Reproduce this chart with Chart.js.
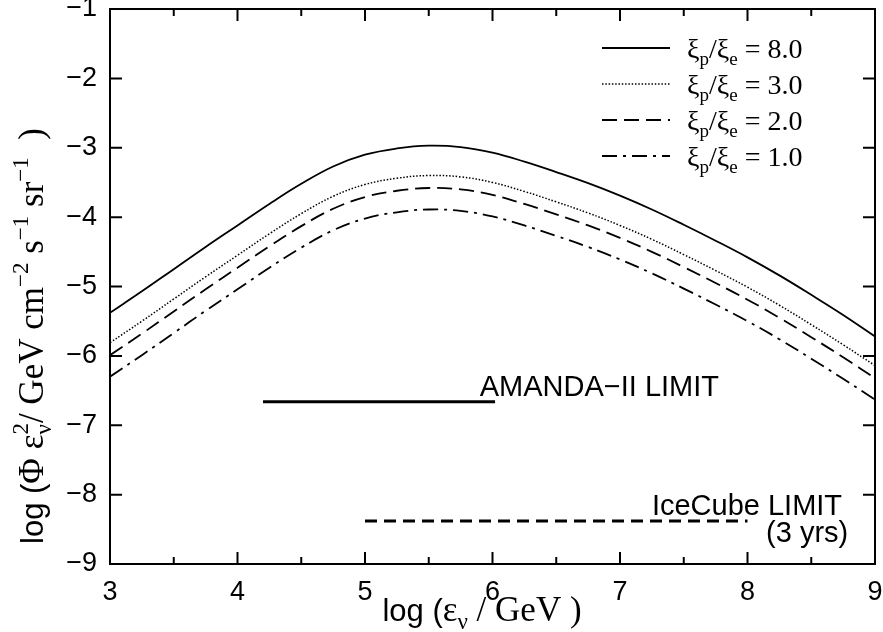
<!DOCTYPE html>
<html lang="en">
<head>
<meta charset="UTF-8">
<title>Neutrino flux vs energy</title>
<script src="https://cdn.jsdelivr.net/npm/chart.js"></script>
<style>
  html, body { margin: 0; padding: 0; background: #fff; }
</style>
</head>
<body>
<canvas id="fluxChart" width="883" height="632"></canvas>
<script>
// log(energy / GeV)
const logE = [3.0, 3.25, 3.5, 3.75, 4.0, 4.25, 4.5, 4.75, 5.0, 5.25, 5.5, 5.75, 6.0,
              6.25, 6.5, 6.75, 7.0, 7.25, 7.5, 7.75, 8.0, 8.25, 8.5, 8.75, 9.0];
// log flux for each xi_p/xi_e ratio
const xi8 = [-5.38, -5.07, -4.75, -4.43, -4.12, -3.81, -3.52, -3.27, -3.10, -3.01, -2.97, -2.99, -3.07,
             -3.20, -3.35, -3.51, -3.69, -3.89, -4.11, -4.34, -4.58, -4.84, -5.12, -5.41, -5.72];
const xi3 = [-5.81, -5.50, -5.18, -4.86, -4.55, -4.24, -3.95, -3.70, -3.53, -3.44, -3.40, -3.42, -3.50,
             -3.63, -3.78, -3.94, -4.12, -4.32, -4.54, -4.77, -5.01, -5.27, -5.55, -5.84, -6.14];
const xi2 = [-5.99, -5.68, -5.36, -5.04, -4.73, -4.42, -4.13, -3.88, -3.71, -3.62, -3.58, -3.60, -3.68,
             -3.81, -3.96, -4.12, -4.30, -4.50, -4.72, -4.95, -5.19, -5.45, -5.73, -6.02, -6.32];
const xi1 = [-6.30, -5.99, -5.67, -5.35, -5.04, -4.73, -4.44, -4.19, -4.02, -3.93, -3.89, -3.91, -3.99,
             -4.12, -4.27, -4.43, -4.61, -4.81, -5.03, -5.26, -5.50, -5.76, -6.04, -6.33, -6.63];
// detector limits
const amandaX = [4.2, 6.02];
const amandaY = [-6.66, -6.66];
const icecubeX = [5.0, 8.0];
const icecubeY = [-8.38, -8.38];
// legend labels
const ratioLabels = ['8.0', '3.0', '2.0', '1.0'];
// axis ticks
const xTicks = [3, 4, 5, 6, 7, 8, 9];
const yTicks = [-9, -8, -7, -6, -5, -4, -3, -2, -1];

const SANS = '"Liberation Sans", Arial, Helvetica, sans-serif';
const SERIF = '"Liberation Serif", "Times New Roman", serif';

const solidDash = [];
const dotDash = [1.5, 1.8];
const longDash = [15, 7];
const dashDot = [15, 6, 3, 6];

function pts(xs, ys) {
    return xs.map((x, i) => ({ x: x, y: ys[i] }));
}

function minus(v) {
    return String(v).replace('-', '\u2212');
}

// pieces: {t, f, dy, adv}
function richWidth(ctx, parts) {
    let w = 0;
    parts.forEach(p => {
        ctx.font = p.f;
        if (p.adv !== false) w += ctx.measureText(p.t).width;
    });
    return w;
}
function drawRich(ctx, parts, x, y) {
    let cx = x;
    parts.forEach(p => {
        ctx.font = p.f;
        ctx.fillText(p.t, cx, y + (p.dy || 0));
        if (p.adv !== false) cx += ctx.measureText(p.t).width;
    });
}

// frame + inward ticks on all four sides
const frameTicks = {
    id: 'frameTicks',
    afterDraw(chart) {
        const { ctx, chartArea: a, scales } = chart;
        ctx.save();
        ctx.strokeStyle = '#000';
        ctx.lineWidth = 2;
        ctx.strokeRect(a.left, a.top, a.right - a.left, a.bottom - a.top);
        ctx.beginPath();
        for (let v = 3; v <= 9.001; v += 0.5) {
            const px = scales.x.getPixelForValue(v);
            const len = Number.isInteger(v) ? 12 : 7;
            ctx.moveTo(px, a.bottom); ctx.lineTo(px, a.bottom - len);
            ctx.moveTo(px, a.top); ctx.lineTo(px, a.top + len);
        }
        yTicks.forEach(v => {
            const py = scales.y.getPixelForValue(v);
            ctx.moveTo(a.left, py); ctx.lineTo(a.left + 12, py);
            ctx.moveTo(a.right, py); ctx.lineTo(a.right - 12, py);
        });
        ctx.stroke();
        ctx.restore();
    }
};

// axis titles, legend, limit annotations
const textLayer = {
    id: 'textLayer',
    afterDraw(chart) {
        const { ctx, chartArea: a, scales } = chart;
        ctx.save();
        ctx.fillStyle = '#000';
        ctx.textBaseline = 'alphabetic';
        ctx.textAlign = 'left';

        const big = '35px ' + SERIF;
        const small = '23px ' + SERIF;
        const sans = '31px ' + SANS;

        // x title
        const xParts = [
            { t: 'log (', f: sans },
            { t: '\u03b5', f: big },
            { t: '\u03bd', f: small, dy: 8 },
            { t: ' / GeV )', f: big }
        ];
        const xw = richWidth(ctx, xParts);
        drawRich(ctx, xParts, 482 - xw / 2, 621);

        // y title (rotated)
        const yParts = [
            { t: 'log (', f: sans },
            { t: '\u03a6 \u03b5', f: big },
            { t: '\u03bd', f: small, dy: 8, adv: false },
            { t: '2', f: small, dy: -15 },
            { t: '/ GeV cm', f: big },
            { t: '\u22122', f: small, dy: -15 },
            { t: ' s', f: big },
            { t: '\u22121', f: small, dy: -15 },
            { t: ' sr', f: big },
            { t: '\u22121', f: small, dy: -15 },
            { t: '  )', f: big }
        ];
        const yw = richWidth(ctx, yParts);
        ctx.save();
        ctx.translate(43, 336);
        ctx.rotate(-Math.PI / 2);
        drawRich(ctx, yParts, -yw / 2, 0);
        ctx.restore();

        // legend
        const dashes = [solidDash, dotDash, longDash, dashDot];
        const widths = [1.8, 1.5, 1.8, 1.8];
        ratioLabels.forEach((lab, i) => {
            const ly = 48 + i * 36;
            ctx.save();
            ctx.strokeStyle = '#000';
            ctx.lineWidth = widths[i];
            ctx.setLineDash(dashes[i]);
            ctx.beginPath();
            ctx.moveTo(602, ly);
            ctx.lineTo(670, ly);
            ctx.stroke();
            ctx.restore();
            const f = '28px ' + SERIF, fs = '19px ' + SERIF;
            drawRich(ctx, [
                { t: '\u03be', f: f },
                { t: 'p', f: fs, dy: 7 },
                { t: '/\u03be', f: f },
                { t: 'e', f: fs, dy: 7 },
                { t: ' = ' + lab, f: f }
            ], 687, ly + 10);
        });

        // annotations
        ctx.font = '29px ' + SANS;
        ctx.fillText('AMANDA\u2212II LIMIT', scales.x.getPixelForValue(5.9), scales.y.getPixelForValue(-6.58));
        ctx.fillText('IceCube LIMIT', scales.x.getPixelForValue(7.25), scales.y.getPixelForValue(-8.29));
        ctx.textAlign = 'right';
        ctx.fillText('(3 yrs)', scales.x.getPixelForValue(8.79), scales.y.getPixelForValue(-8.68));
        ctx.restore();
    }
};

function curve(label, ys, dash, width) {
    return {
        label: label,
        data: pts(logE, ys),
        borderColor: '#000',
        borderWidth: width,
        borderDash: dash,
        pointRadius: 0,
        tension: 0.4,
        fill: false
    };
}

const ctx = document.getElementById('fluxChart').getContext('2d');
const fluxChart = new Chart(ctx, {
    type: 'line',
    data: {
        datasets: [
            curve('xi8', xi8, solidDash, 1.8),
            curve('xi3', xi3, dotDash, 1.5),
            curve('xi2', xi2, longDash, 1.8),
            curve('xi1', xi1, dashDot, 1.8),
            {
                label: 'AMANDA',
                data: pts(amandaX, amandaY),
                borderColor: '#000', borderWidth: 3, pointRadius: 0
            },
            {
                label: 'IceCube',
                data: pts(icecubeX, icecubeY),
                borderColor: '#000', borderWidth: 3, borderDash: [12, 7], pointRadius: 0
            }
        ]
    },
    options: {
        responsive: false,
        animation: false,
        layout: { padding: { top: 9, right: 8, left: 0, bottom: 0 } },
        plugins: { legend: { display: false }, tooltip: { enabled: false } },
        scales: {
            x: {
                type: 'linear', min: 3, max: 9,
                afterBuildTicks(s) { s.ticks = xTicks.map(v => ({ value: v })); },
                ticks: { font: { family: SANS, size: 27 }, color: '#000', padding: 12, maxRotation: 0,
                         callback: v => minus(v) },
                grid: { display: false, drawTicks: false },
                border: { display: false },
                afterFit(s) { s.height = 68; s.paddingLeft = 0; s.paddingRight = 0; }
            },
            y: {
                type: 'linear', min: -9, max: -1,
                afterBuildTicks(s) { s.ticks = yTicks.map(v => ({ value: v })); },
                ticks: { font: { family: SANS, size: 27 }, color: '#000', padding: 13,
                         callback: v => minus(v) },
                grid: { display: false, drawTicks: false },
                border: { display: false },
                afterFit(s) { s.width = 110; s.paddingTop = 0; s.paddingBottom = 0; }
            }
        }
    },
    plugins: [frameTicks, textLayer]
});
</script>
</body>
</html>
